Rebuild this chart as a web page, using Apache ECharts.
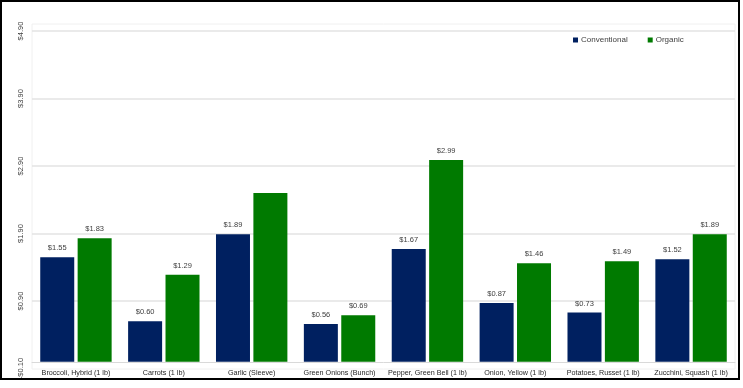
<!DOCTYPE html>
<html>
<head>
<meta charset="utf-8">
<script src="https://cdn.jsdelivr.net/npm/echarts@6/dist/echarts.min.js"></script>
<style>html,body{margin:0;padding:0;background:#fff;}#c{width:743px;height:388px;}</style>
</head>
<body>
<div id="c"></div>
<script>
const categories = ["Broccoli, Hybrid (1 lb)", "Carrots (1 lb)", "Garlic (Sleeve)", "Green Onions (Bunch)", "Pepper, Green Bell (1 lb)", "Onion, Yellow (1 lb)", "Potatoes, Russet (1 lb)", "Zucchini, Squash (1 lb)"];
const conventional = [1.55, 0.60, 1.89, 0.56, 1.67, 0.87, 0.73, 1.52];
const organic = [1.83, 1.29, 2.50, 0.69, 2.99, 1.46, 1.49, 1.89];
const organicLabelShown = [true, true, false, true, true, true, true, true];
const yMin = -0.10, yMax = 4.90, yStep = 1.0;

const FONT = '"Liberation Sans", Arial, sans-serif';
const chart = echarts.init(document.getElementById('c'));
const money = v => '$' + v.toFixed(2);
chart.setOption({
  animation: false,
  textStyle: { fontFamily: FONT },
  graphic: [
    {
      type: 'rect', shape: { x: 32, y: 24, width: 703, height: 345 },
      style: { fill: 'none', stroke: '#f0f0f0', lineWidth: 1 }, z: -1, silent: true
    },
    {
      type: 'rect', shape: { x: 1, y: 1, width: 738, height: 378 },
      style: { fill: 'none', stroke: '#000', lineWidth: 2 }, z: 100, silent: true
    }
  ],
  legend: {
    data: ['Conventional', 'Organic'],
    left: 568, top: 31,
    itemWidth: 5, itemHeight: 5, itemGap: 20,
    icon: 'rect',
    textStyle: { fontSize: 8, color: '#404040', fontFamily: FONT, padding: [0, 0, 0, -2] }
  },
  grid: { left: 32, right: 8, top: 31, bottom: 19.5, containLabel: false },
  xAxis: {
    type: 'category', data: categories,
    axisTick: { show: false },
    axisLine: { onZero: true, lineStyle: { color: '#d9d9d9', width: 1 } },
    axisLabel: { fontSize: 7.2, color: '#262626', margin: 1, interval: 0, fontFamily: FONT }
  },
  yAxis: {
    type: 'value', min: yMin, max: yMax, interval: yStep,
    axisLine: { show: false }, axisTick: { show: false },
    axisLabel: { rotate: 90, fontSize: 7.5, color: '#404040', margin: 7, formatter: v => (v < 0 ? '-$' + Math.abs(v).toFixed(2) : money(v)), fontFamily: FONT },
    splitLine: { lineStyle: { color: ['transparent', '#e3e3e3', '#e3e3e3', '#e3e3e3', '#e3e3e3', '#e3e3e3'], width: 1.5 } }
  },
  series: [
    {
      name: 'Conventional', type: 'bar', data: conventional,
      barWidth: 34, barGap: '10%',
      itemStyle: { color: '#002060' },
      label: { show: true, position: 'top', distance: 5, fontSize: 7.5, color: '#404040', formatter: p => money(p.value), fontFamily: FONT }
    },
    {
      name: 'Organic', type: 'bar',
      data: organic.map((v, i) => ({ value: v, label: { show: organicLabelShown[i] } })),
      barWidth: 34,
      itemStyle: { color: '#007A00' },
      label: { show: true, position: 'top', distance: 5, fontSize: 7.5, color: '#404040', formatter: p => money(p.value), fontFamily: FONT }
    }
  ]
});
</script>
</body>
</html>
